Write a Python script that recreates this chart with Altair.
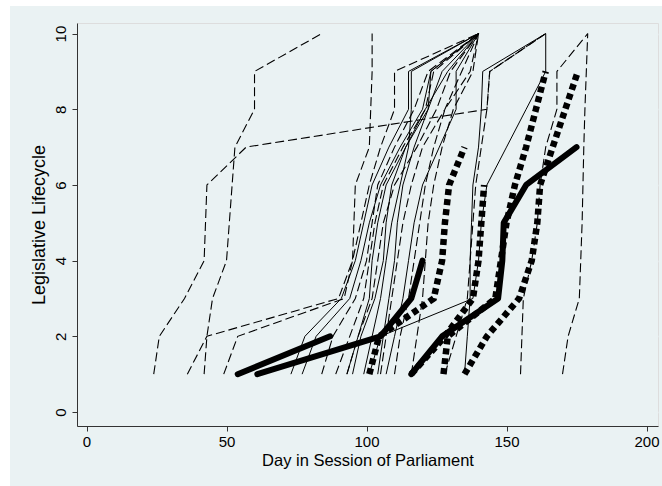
import altair as alt
import pandas as pd

# Legislative lifecycle stages (y) reached on a given day (x)
STAGES = [1, 2, 3, 4, 5, 6, 7, 8, 9, 10]

# ---- thin dashed series (days at stage 1, 2, 3, ...) ----
dash_01 = [24, 26, 35, 42, 42.5, 43, 57, 143, 144, 164]
dash_02 = [42, 43, 45, 50, 51, 52, 53, 60, 60, 84]
dash_03 = [36, 43, 90, 95, 95.5, 96, 101, 101.5, 102, 102]
dash_04 = [49, 54, 92, 95, 98, 101, 105, 110, 110, 140]
dash_05 = [84, 88, 96, 100, 102, 104, 110, 117, 122, 140]
dash_06 = [89, 94, 99, 101, 103, 106, 113, 121, 124, 140]
dash_07 = [93, 97, 102, 104, 106, 110, 118, 125, 130, 140]
dash_08 = [105, 107, 109, 111, 113, 116, 120, 128, 134, 140]
dash_09 = [110, 112, 115, 117, 119, 121, 124, 128, 137, 140]
dash_10 = [116, 118, 120, 121, 122, 124, 127, 131, 138, 140]
dash_11 = [128, 132, 136, 137, 138, 139, 141, 143, 144, 164]
dash_12 = [155, 155.5, 156, 159, 161, 162, 164, 168, 168, 179]
dash_13 = [170, 172, 176, 176.5, 177, 177.3, 177.6, 178, 178.5, 179]

# ---- thin solid series ----
solid_01 = [73, 78, 91, 96, 99, 102, 108, 115, 115, 140]
solid_02 = [77, 82, 94, 98, 101, 105, 112, 120, 123, 140]
solid_03 = [95, 98, 103, 106, 107, 109, 114, 122, 127, 140]
solid_04 = [99, 102, 105, 107, 109, 112, 115, 116, 116, 140]
solid_05 = [107, 110, 113, 115, 117, 120, 126, 132, 132, 140]
solid_06 = [104, 106, 108, 110, 111, 113, 117, 122, 123, 140]
solid_07 = [93, 97, 101, 102, 104, 107, 114, 121, 129, 140]
solid_08 = [135, 136, 137, 137, 137.5, 138, 140, 141, 141.5, 164]
solid_09 = [101, 105, 138, 140, 141, 143, 150, 157, 164, 164]

# ---- thick solid series ----
thick_01 = [54, 87]
thick_02 = [61, 105, 116, 120]
thick_03 = [116, 127, 147, 148.5, 149, 157, 175]

# ---- thick dotted series ----
dotted_01 = [101, 104.5, 124, 127, 128, 129.5, 135]
dotted_02 = [116, 128, 138, 140, 141, 142]
dotted_03 = [127.5, 129, 146, 148, 150, 153, 157, 160.5, 164]
dotted_04 = [135, 143, 154.5, 159, 161, 162, 166.5, 171, 175.5]

X_TICKS = [0, 50, 100, 150, 200]
Y_TICKS = [0, 2, 4, 6, 8, 10]

series = (
    [("dash", n, d) for n, d in [
        ("dash_01", dash_01), ("dash_02", dash_02), ("dash_03", dash_03),
        ("dash_04", dash_04), ("dash_05", dash_05), ("dash_06", dash_06),
        ("dash_07", dash_07), ("dash_08", dash_08), ("dash_09", dash_09),
        ("dash_10", dash_10), ("dash_11", dash_11), ("dash_12", dash_12),
        ("dash_13", dash_13)]]
    + [("solid", n, d) for n, d in [
        ("solid_01", solid_01), ("solid_02", solid_02), ("solid_03", solid_03),
        ("solid_04", solid_04), ("solid_05", solid_05), ("solid_06", solid_06),
        ("solid_07", solid_07), ("solid_08", solid_08), ("solid_09", solid_09)]]
    + [("dotted", n, d) for n, d in [
        ("dotted_01", dotted_01), ("dotted_02", dotted_02),
        ("dotted_03", dotted_03), ("dotted_04", dotted_04)]]
    + [("thick", n, d) for n, d in [
        ("thick_01", thick_01), ("thick_02", thick_02), ("thick_03", thick_03)]]
)

rows = []
for style, name, days in series:
    for i, (st, dy) in enumerate(zip(STAGES, days)):
        rows.append({"style": style, "bill": name, "day": dy, "stage": st, "ord": i})
df = pd.DataFrame(rows)

FONT = "Liberation Sans"
W, H = 581, 403
PAD_L, PAD_T = 77, 23

x_enc = alt.X(
    "day:Q",
    scale=alt.Scale(domain=[-3.4, 204.1], nice=False, zero=False),
    axis=alt.Axis(
        values=X_TICKS, title="Day in Session of Parliament", grid=False,
        domainColor="#333333", tickColor="#333333", tickSize=5,
        labelFontSize=15, titleFontSize=16.5, labelPadding=3, titlePadding=3,
        labelColor="black", titleColor="black", titleFontWeight="normal",
    ),
)
y_enc = alt.Y(
    "stage:Q",
    scale=alt.Scale(domain=[-0.37, 10.28], nice=False, zero=False),
    axis=alt.Axis(
        values=Y_TICKS, title="Legislative Lifecycle", grid=True,
        gridColor="#EAF2F3", gridWidth=1.5,
        domainColor="#333333", tickColor="#333333", tickSize=5,
        labelAngle=270, labelAlign="center", labelBaseline="bottom",
        labelFontSize=15, titleFontSize=18, labelPadding=4, titlePadding=5,
        labelColor="black", titleColor="black", titleFontWeight="normal",
    ),
)

base = alt.Chart(df)


def layer(style, **mk):
    return base.transform_filter(alt.datum.style == style).mark_line(
        color="black", **mk
    ).encode(x=x_enc, y=y_enc, detail="bill:N", order="ord:Q")


dash_l = layer("dash", strokeWidth=1.1, strokeDash=[9, 4])
solid_l = layer("solid", strokeWidth=1.0)
dotted_l = layer("dotted", strokeWidth=6.5, strokeDash=[6, 4], strokeCap="butt")
thick_l = layer("thick", strokeWidth=6, strokeCap="round", strokeJoin="round")

# white page margins around the Stata-style light background
strip = pd.DataFrame({"k": [0]})
left_strip = alt.Chart(strip).mark_rect(color="white", clip=False).encode(
    x=alt.value(-PAD_L), x2=alt.value(-PAD_L + 10),
    y=alt.value(-PAD_T), y2=alt.value(486 - PAD_T))
top_strip = alt.Chart(strip).mark_rect(color="white", clip=False).encode(
    x=alt.value(-PAD_L), x2=alt.value(662 - PAD_L),
    y=alt.value(-PAD_T), y2=alt.value(-PAD_T + 6))

chart = alt.layer(
    left_strip, top_strip, dash_l, solid_l, dotted_l, thick_l
).properties(
    width=W, height=H,
    autosize=alt.AutoSizeParams(type="none"),
    padding={"left": PAD_L, "top": PAD_T, "right": 662 - PAD_L - W, "bottom": 486 - PAD_T - H},
    background="#EAF2F3",
).configure_view(
    fill="white", stroke=None
).configure(font=FONT)

chart.save("out.html", embed_options={"renderer": "svg", "actions": False})
